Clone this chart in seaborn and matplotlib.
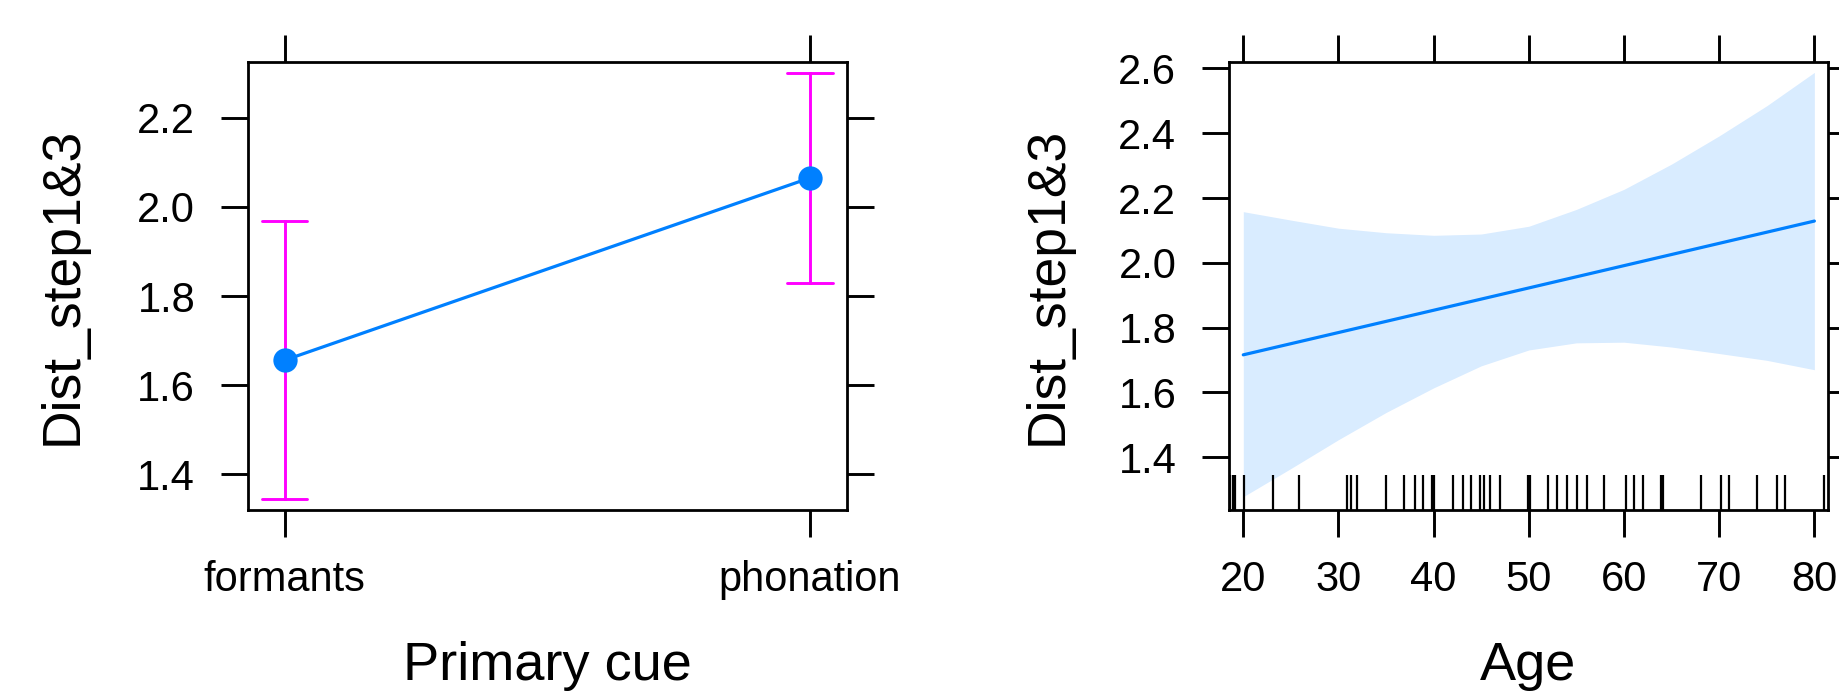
import pandas as pd
import seaborn as sns
import matplotlib
matplotlib.use("Agg")
import matplotlib.pyplot as plt

# left panel: effect of primary cue (estimate with 95% CI)
cues = ["formants", "phonation"]
cue_fit = [1.656, 2.065]
cue_lower = [1.345, 1.830]
cue_upper = [1.968, 2.301]

# right panel: effect of age
fit_age = [20, 80]
fit_value = [1.716, 2.129]
band_age = [20, 25, 30, 35, 40, 45, 50, 55, 60, 65, 70, 75, 80]
band_lower = [1.278, 1.365, 1.454, 1.538, 1.614, 1.682, 1.731, 1.753, 1.755, 1.740, 1.720, 1.699, 1.670]
band_upper = [2.158, 2.132, 2.107, 2.093, 2.085, 2.089, 2.113, 2.165, 2.227, 2.305, 2.392, 2.485, 2.588]
rug_age = [18.6, 18.9, 19.1, 20.1, 23.1, 25.9, 30.9, 31.3, 32.0, 35.0, 36.9, 38.0,
           38.9, 39.8, 40.0, 42.0, 43.1, 43.9, 44.9, 45.3, 45.9, 47.0, 49.9, 50.1,
           52.0, 53.0, 54.0, 55.1, 56.1, 57.9, 60.2, 61.1, 62.0, 63.9, 64.1, 68.1,
           70.2, 71.0, 74.0, 76.1, 76.9, 81.0]

BLUE = "#0080ff"
MAGENTA = "#ff00ff"

sns.set_style("ticks")
plt.rcParams["font.family"] = ["Liberation Sans", "DejaVu Sans"]
plt.rcParams["text.color"] = "black"
plt.rcParams["axes.labelcolor"] = "black"
plt.rcParams["xtick.color"] = "black"
plt.rcParams["ytick.color"] = "black"

fig = plt.figure(figsize=(18.39, 6.92), dpi=100)
ax1 = fig.add_axes([247.8 / 1839, 182 / 692, 599.5 / 1839, 448 / 692])
ax2 = fig.add_axes([1229 / 1839, 182 / 692, 598.7 / 1839, 448 / 692])

# long form so that median = estimate and full range = CI
cue_df = pd.DataFrame({
    "cue": cues * 3,
    "value": cue_lower + cue_fit + cue_upper,
})
sns.pointplot(data=cue_df, x="cue", y="value", order=cues, estimator="median",
              errorbar=("pi", 100), color=BLUE, capsize=0.087,
              markersize=17.5, linewidth=2.3, markeredgewidth=0,
              err_kws={"color": MAGENTA, "linewidth": 2.1, "zorder": 1}, ax=ax1)
ax1.set_xlim(-0.07, 1.071)
ax1.set_ylim(1.32, 2.325)
ax1.set_yticks([1.4, 1.6, 1.8, 2.0, 2.2])
ax1.set_xlabel("Primary cue")
ax1.set_ylabel("Dist_step1&3")

# age effect
ax2.fill_between(band_age, band_lower, band_upper, color=BLUE, alpha=0.15, linewidth=0)
sns.lineplot(x=fit_age, y=fit_value, color=BLUE, linewidth=2.3, ax=ax2)
sns.rugplot(x=rug_age, height=0.078, color="black", linewidth=1.6, ax=ax2)
ax2.set_xlim(18.5, 81.4)
ax2.set_ylim(1.237, 2.62)
ax2.set_xticks([20, 30, 40, 50, 60, 70, 80])
ax2.set_yticks([1.4, 1.6, 1.8, 2.0, 2.2, 2.4, 2.6])
ax2.set_xlabel("Age")
ax2.set_ylabel("Dist_step1&3")

for ax, ylab_x in [(ax1, -0.267), (ax2, -0.262)]:
    for sp in ax.spines.values():
        sp.set_visible(True)
        sp.set_linewidth(2)
        sp.set_color("black")
    ax.tick_params(axis="both", which="both", direction="out", length=19.4, width=2.1,
                   color="black", labelcolor="black", labelsize=30, top=True, right=True,
                   labeltop=False, labelright=False)
    ax.tick_params(axis="x", pad=16.5)
    ax.tick_params(axis="y", pad=18.5)
    ax.xaxis.label.set_fontsize(39)
    ax.yaxis.label.set_fontsize(38.5)
    ax.xaxis.set_label_coords(0.5, -0.293)
    ax.yaxis.set_label_coords(ylab_x, 0.5)
    ax.grid(False)

fig.savefig("out.png", dpi=100)
